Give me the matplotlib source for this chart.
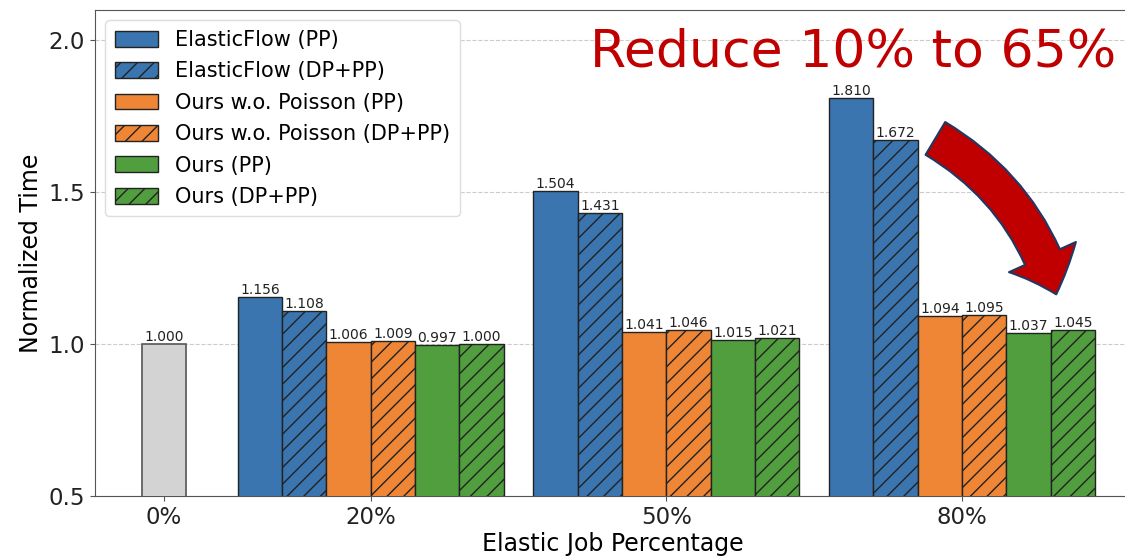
import matplotlib.pyplot as plt
from matplotlib.patches import FancyArrowPatch, Patch

# x positions of each tick group
positions = [0.3, 1, 2, 3]
tick_labels = ["0%", "20%", "50%", "80%"]

baseline = [1.000]

series_names = [
    "ElasticFlow (PP)",
    "ElasticFlow (DP+PP)",
    "Ours w.o. Poisson (PP)",
    "Ours w.o. Poisson (DP+PP)",
    "Ours (PP)",
    "Ours (DP+PP)",
]
# values for the 20%, 50%, 80% groups
elasticflow_pp = [1.156, 1.504, 1.810]
elasticflow_dppp = [1.108, 1.431, 1.672]
wo_poisson_pp = [1.006, 1.041, 1.094]
wo_poisson_dppp = [1.009, 1.046, 1.095]
ours_pp = [0.997, 1.015, 1.037]
ours_dppp = [1.000, 1.021, 1.045]

series = [elasticflow_pp, elasticflow_dppp, wo_poisson_pp,
          wo_poisson_dppp, ours_pp, ours_dppp]
colors = ["#3a75af", "#3a75af", "#ef8636", "#ef8636", "#519e3e", "#519e3e"]
hatches = ["", "//", "", "//", "", "//"]

width = 0.15

fig = plt.figure(figsize=(11.25, 5.57), dpi=100)
ax = fig.add_axes([0.0844, 0.1095, 0.9206, 0.8725])

def label_bars(bars, vals):
    for b, v in zip(bars, vals):
        ax.text(b.get_x() + b.get_width() / 2, v, f"{v:.3f}",
                ha="center", va="bottom", fontsize=10, color="#222222")

b0 = ax.bar([positions[0]], baseline, width, color="#d3d3d3",
            edgecolor="#555555", linewidth=1.2, zorder=3)
label_bars(b0, baseline)

group_x = positions[1:]
for i, (vals, c, h, name) in enumerate(zip(series, colors, hatches, series_names)):
    xs = [x + (i - 2.5) * width for x in group_x]
    bars = ax.bar(xs, vals, width, color=c, edgecolor="#222222",
                  linewidth=1.0, hatch=h, label=name, zorder=3)
    label_bars(bars, vals)

ax.set_xlim(0.067, 3.57)
ax.set_ylim(0.5, 2.1)
ax.set_yticks([0.5, 1.0, 1.5, 2.0])
ax.set_xticks(positions)
ax.set_xticklabels(tick_labels)
ax.tick_params(labelsize=16.5, colors="#222222")
ax.tick_params(axis="both", color="#555555")
ax.set_xlabel("Elastic Job Percentage", fontsize=17, labelpad=2)
ax.set_ylabel("Normalized Time", fontsize=17, labelpad=4)
ax.yaxis.grid(True, linestyle="--", color="#cccccc", linewidth=0.8, zorder=0)
ax.set_axisbelow(True)
for s in ax.spines.values():
    s.set_color("#555555")

handles = [Patch(facecolor=c, edgecolor="#222222", hatch=h, label=n)
           for c, h, n in zip(colors, hatches, series_names)]
ax.legend(handles=handles, loc="upper left", fontsize=15,
          frameon=True, framealpha=1, edgecolor="#dddddd",
          handlelength=2.1, handleheight=0.8, labelspacing=0.55,
          borderpad=0.45, borderaxespad=0.5)

fig.text(0.758, 0.905, "Reduce 10% to 65%", fontsize=37.5, color="#c00000",
         ha="center", va="center")

# curved arrow drawn in figure pixel coordinates
arrow = FancyArrowPatch(
    (933, 557 - 137), (1057, 557 - 297),
    transform=None,
    connectionstyle="arc3,rad=-0.2",
    arrowstyle="simple,head_width=2.4,head_length=1.3,tail_width=1.25",
    mutation_scale=22, facecolor="#c00000", edgecolor="#1f3864",
    linewidth=1.5, zorder=5)
fig.patches.append(arrow)

fig.savefig("out.png", dpi=100)
